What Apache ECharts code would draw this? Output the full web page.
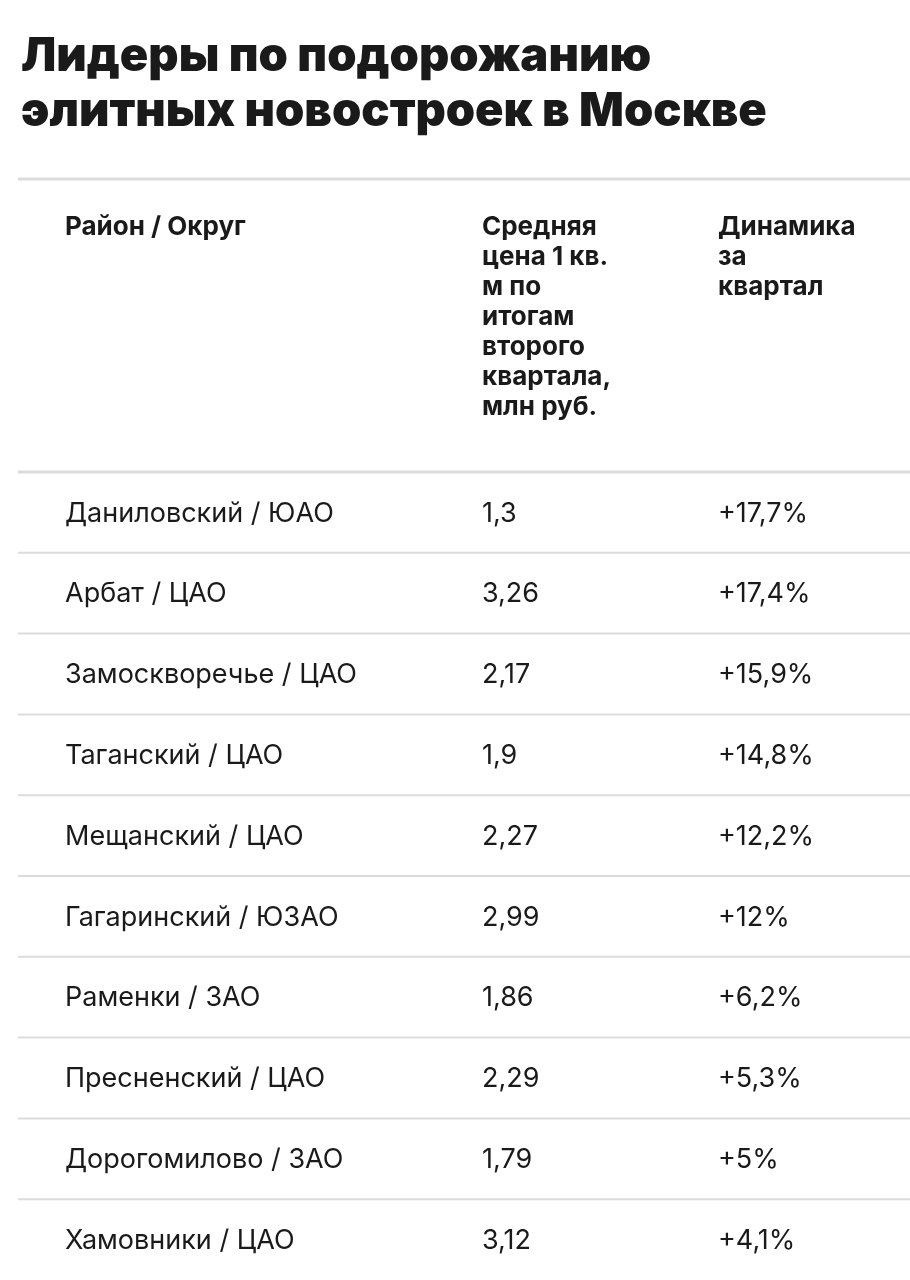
<!DOCTYPE html>
<html><head><meta charset="utf-8">
<script src="https://cdn.jsdelivr.net/npm/echarts@6/dist/echarts.min.js"></script>
<style>html,body{margin:0;padding:0;background:#fff}#c{width:910px;height:1280px}</style>
</head><body><div id="c"></div>
<script>
const title = "Лидеры по подорожанию\nэлитных новостроек в Москве";
const headers = ["Район / Округ", "Средняя\nцена 1 кв.\nм по\nитогам\nвторого\nквартала,\nмлн руб.", "Динамика\nза\nквартал"];
const districts = ["Даниловский / ЮАО","Арбат / ЦАО","Замоскворечье / ЦАО","Таганский / ЦАО","Мещанский / ЦАО","Гагаринский / ЮЗАО","Раменки / ЗАО","Пресненский / ЦАО","Дорогомилово / ЗАО","Хамовники / ЦАО"];
const prices = ["1,3","3,26","2,17","1,9","2,27","2,99","1,86","2,29","1,79","3,12"];
const changes = ["+17,7%","+17,4%","+15,9%","+14,8%","+12,2%","+12%","+6,2%","+5,3%","+5%","+4,1%"];

const colX = [65, 482, 718];
const FONT = 'Inter, Roboto, sans-serif';
const chart = echarts.init(document.getElementById('c'));
chart.setOption({
  animation:false,
  backgroundColor:'#fff',
  title:{text:title,left:16,top:24,textStyle:{fontFamily:FONT,fontSize:47,fontWeight:900,color:'#1a1a1a',lineHeight:55}},
  graphic:[
    {type:'line',shape:{x1:18,y1:179,x2:910,y2:179},style:{stroke:'#dcdcdc',lineWidth:3}},
    {type:'line',shape:{x1:18,y1:472,x2:910,y2:472},style:{stroke:'#dcdcdc',lineWidth:3}},
    ...headers.map((h,i)=>({type:'text',left:colX[i],top:212,style:{text:h,font:'bold 26px '+FONT,lineHeight:30,fill:'#1a1a1a'}}))
  ],
  grid:{left:0,right:0,top:472,height:820},
  xAxis:{type:'value',min:0,max:910,show:false},
  yAxis:{type:'category',inverse:true,data:districts,show:false},
  series:[{
    type:'custom',
    data:districts.map((d,i)=>[0,i]),
    renderItem:(params,api)=>{
      const i=api.value(1);
      const c=api.coord([0,i]);
      const h=api.size([0,1])[1];
      const kids=[districts[i],prices[i],changes[i]].map((t,k)=>({type:'text',style:{text:t,x:colX[k],y:c[1]+1,textVerticalAlign:'middle',font:'27px '+FONT,fill:'#1a1a1a'}}));
      if(i<districts.length-1) kids.push({type:'line',shape:{x1:18,y1:c[1]+h/2,x2:910,y2:c[1]+h/2},style:{stroke:'#dcdcdc',lineWidth:2}});
      return {type:'group',children:kids};
    }
  }]
});
</script></body></html>
